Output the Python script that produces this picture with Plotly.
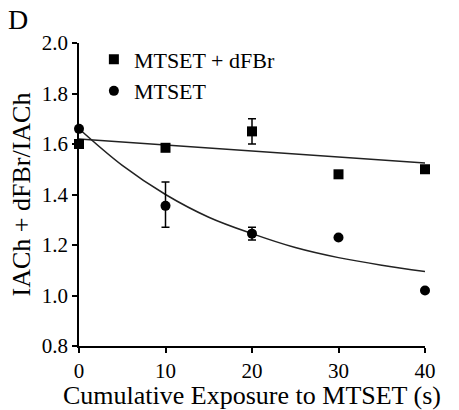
import plotly.graph_objects as go

# Data
x_vals = [0, 10, 20, 30, 40]
sq_vals = [1.60, 1.585, 1.65, 1.48, 1.50]          # MTSET + dFBr
sq_err = [0, 0, 0.05, 0, 0]
circ_x = [0, 10, 20, 30, 40]
circ_vals = [1.66, 1.355, 1.245, 1.23, 1.02]       # MTSET
circ_err_plus = [0, 0.095, 0.025, 0, 0]
circ_err_minus = [0, 0.085, 0.025, 0, 0]

# Fit curves
lin_fit_x = [0, 40]
lin_fit_y = [1.62, 1.525]
exp_fit_x = [0, 5, 10, 15, 20, 25, 30, 35, 40]
exp_fit_y = [1.66, 1.515, 1.40, 1.31, 1.245, 1.19, 1.15, 1.12, 1.095]

FONT = "Liberation Serif, Times New Roman, DejaVu Serif, serif"

fig = go.Figure()
fig.add_trace(go.Scatter(x=lin_fit_x, y=lin_fit_y, mode="lines",
                         line=dict(color="#222", width=1.5), showlegend=False,
                         hoverinfo="skip"))
fig.add_trace(go.Scatter(x=exp_fit_x, y=exp_fit_y, mode="lines",
                         line=dict(color="#222", width=1.5, shape="spline"),
                         showlegend=False, hoverinfo="skip"))
fig.add_trace(go.Scatter(x=x_vals, y=sq_vals, mode="markers", name="MTSET + dFBr",
                         marker=dict(symbol="square", size=10, color="black"),
                         error_y=dict(type="data", array=sq_err, visible=True,
                                      color="black", thickness=1.5, width=4),
                         cliponaxis=False))
fig.add_trace(go.Scatter(x=circ_x, y=circ_vals, mode="markers", name="MTSET",
                         marker=dict(symbol="circle", size=10, color="black"),
                         error_y=dict(type="data", array=circ_err_plus,
                                      arrayminus=circ_err_minus, visible=True,
                                      color="black", thickness=1.5, width=4),
                         cliponaxis=False))

fig.update_layout(
    width=459, height=410,
    margin=dict(l=79, r=34, t=43, b=64, autoexpand=False),
    plot_bgcolor="white", paper_bgcolor="white",
    font=dict(family=FONT, color="black", size=21),
    legend=dict(x=0.043, y=1.015, xanchor="left", yanchor="top",
                bgcolor="rgba(0,0,0,0)", font=dict(family=FONT, size=22),
                itemwidth=30, tracegroupgap=0),
    xaxis=dict(range=[0, 40], tickvals=[0, 10, 20, 30, 40],
               showline=True, linecolor="black", linewidth=1.5,
               ticks="outside", ticklen=5, tickwidth=1.5, tickcolor="black",
               showgrid=False, zeroline=False, automargin=False,
               tickfont=dict(family=FONT, size=21),
               title=dict(text="Cumulative Exposure to MTSET (s)",
                          font=dict(family=FONT, size=26), standoff=0)),
    yaxis=dict(range=[0.8, 2.0], tickvals=[0.8, 1.0, 1.2, 1.4, 1.6, 1.8, 2.0],
               ticktext=["0.8", "1.0", "1.2", "1.4", "1.6", "1.8", "2.0"],
               showline=True, linecolor="black", linewidth=1.5,
               ticks="outside", ticklen=5, tickwidth=1.5, tickcolor="black",
               showgrid=False, zeroline=False, automargin=False,
               tickfont=dict(family=FONT, size=21),
               title=dict(text="IACh + dFBr/IACh",
                          font=dict(family=FONT, size=26), standoff=4)),
)
fig.add_annotation(text="D", x=(6 - 79) / 346, y=1 + (43 - 2) / 303,
                   xref="paper", yref="paper",
                   showarrow=False, font=dict(size=28, family=FONT),
                   xanchor="left", yanchor="top")

fig.write_html("out.html",
               config={"displayModeBar": False},
               post_script="document.body.style.margin='0';"
                           "document.body.style.overflow='hidden';")
